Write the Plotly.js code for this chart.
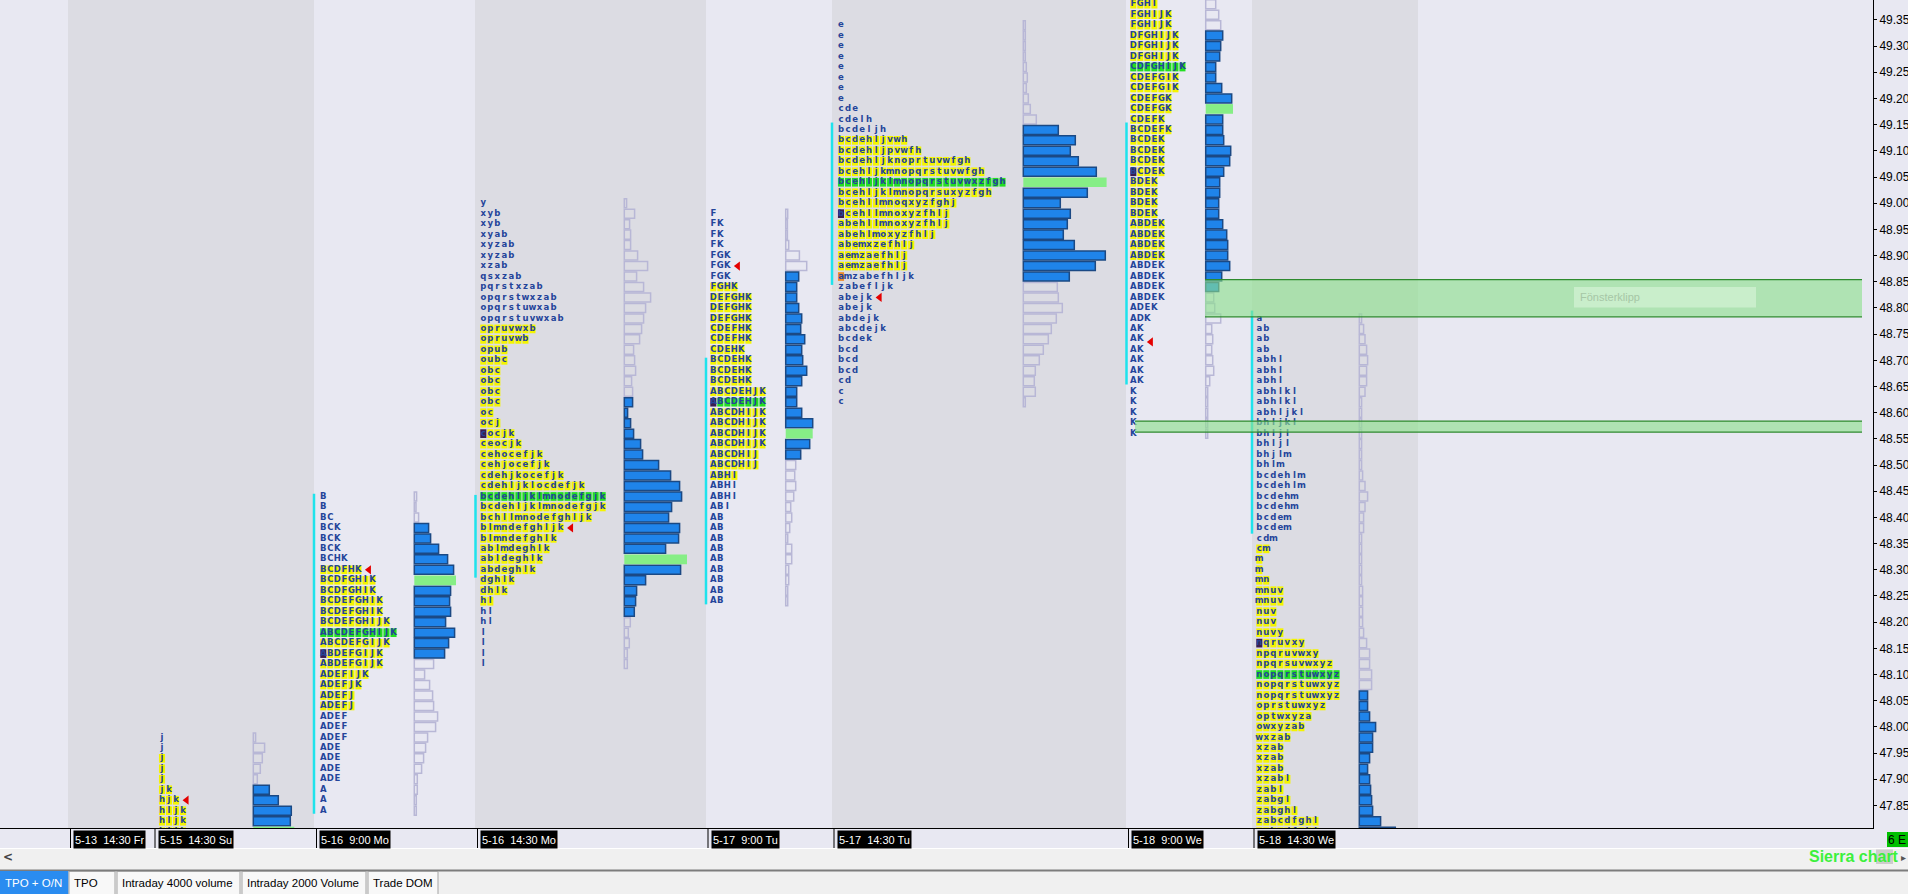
<!DOCTYPE html>
<html>
<head>
<meta charset="utf-8">
<script src="https://cdn.plot.ly/plotly-3.0.1.min.js"></script>
<style>
html,body{margin:0;padding:0;background:#e8e8f2;overflow:hidden;}
#chart{width:1908px;height:894px;}
</style>
</head>
<body>
<div id="chart"></div>
<script>
// ================= DATA =================
const priceTicks = [47.85,47.90,47.95,48.00,48.05,48.10,48.15,48.20,48.25,48.30,48.35,48.40,48.45,48.50,48.55,48.60,48.65,48.70,48.75,48.80,48.85,48.90,48.95,49.00,49.05,49.10,49.15,49.20,49.25,49.30,49.35];
const sessionLabels = ['5-13\u00a0 14:30 Fr','5-15\u00a0 14:30 Su','5-16\u00a0 9:00 Mo','5-16\u00a0 14:30 Mo','5-17\u00a0 9:00 Tu','5-17\u00a0 14:30 Tu','5-18\u00a0 9:00 We','5-18\u00a0 14:30 We'];
const tabLabels = ['TPO + O/N','TPO','Intraday 4000 volume','Intraday 2000 Volume','Trade DOM'];
const zoneHigh = [48.854, 48.584];
const zoneLow  = [48.783, 48.563];
const zoneText = 'Fönsterklipp';
const symbolText = '6 E';
const brandText = 'Sierra chart';

// Profile 1 : 5-15 14:30 Su
const p1Top = 47.98;
const p1Tpo = ['j','j','j','j','j','jk','hjk','hljk','hljk','hljk'];
const p1Vol = [2.3,11.3,9,7,4,16,25,38,37,41];
const p1TpoVA = [47.94,47.80], p1TpoPOC = null, p1VolVA = [47.88,47.82], p1VolPOC = 47.80;
const p1Open = null, p1Close = null, p1Tri = 47.86, p1IB = null;

// Profile 2 : 5-16 9:00 Mo
const p2Top = 48.44;
const p2Tpo = ['B','B','BC','BCK','BCK','BCK','BCHK','BCDFHK','BCDFGHIK','BCDFGHIK','BCDEFGHIK','BCDEFGHIK','BCDEFGHIJK','ABCDEFGHIJK','ABCDEFGIJK','ABDEFGIJK','ABDEFGIJK','ADEFIJK','ADEFJK','ADEFJ','ADEFJ','ADEF','ADEF','ADEF','ADE','ADE','ADE','ADE','A','A','A'];
const p2Vol = [2.3,1.7,4.3,14.3,16.3,24.3,33.3,39.3,41.7,36.3,35.3,36.3,31.3,40.3,34.3,30.3,19.3,10.3,15.3,18.3,19.3,23.3,21.3,13.3,11.3,9.3,7.3,3,3,2,2];
const p2TpoVA = [48.30,48.04], p2TpoPOC = 48.18, p2VolVA = [48.38,48.14], p2VolPOC = 48.28;
const p2Open = 48.14, p2Close = null, p2Tri = 48.30, p2IB = [48.445,47.834];

// Profile 3 : 5-16 14:30 Mo
const p3Top = 49.00;
const p3Tpo = ['y','xyb','xyb','xyab','xyzab','xyzab','xzab','qsxzab','pqrstxzab','opqrstwxzab','opqrstuwxab','opqrstuvwxab','opruvwxb','opruvwb','opub','oubc','obc','obc','obc','obc','oc','ocj','cocjk','ceocjk','cehocefjk','cehjocefjk','cdehjkocefjk','cdehljklocdefjk','bcdehljklmnodefgjk','bcdehljklmnodefgjk','bchllmnodefghljk','blmndefghljk','blmndefghlk','ablmdeghlk','abldeghlk','abdeghlk','dghlk','dhlk','hl','hl','hl','l','l','l','l'];
const p3Vol = [2.3,10.3,5.3,6.3,6.3,13.3,23.3,12.3,19.3,26.3,21.3,19.3,17.3,15.3,9.3,10.3,11.3,7.3,8.3,8.3,3.3,6.3,9.3,16.3,18.3,34.3,46.3,55.3,57.3,47.3,44.3,55.3,54.3,41.3,62.7,56.3,21.3,12.3,11.3,10,6,4,5,3,3];
const p3TpoVA = [48.76,48.24], p3TpoPOC = 48.44, p3VolVA = [48.62,48.22], p3VolPOC = 48.32;
const p3Open = 48.56, p3Close = null, p3Tri = 48.38, p3IB = [48.443,48.285];

// Profile 4 : 5-17 9:00 Tu
const p4Top = 48.98;
const p4Tpo = ['F','FK','FK','FK','FGK','FGK','FGK','FGHK','DEFGHK','DEFGHK','DEFGHK','CDEFHK','CDEFHK','CDEHK','BCDEHK','BCDEHK','BCDEHK','ABCDEHJK','ABCDEHJK','ABCDHIJK','ABCDHIJK','ABCDHIJK','ABCDHIJK','ABCDHIJ','ABCDHIJ','ABHI','ABHI','ABHI','ABI','AB','AB','AB','AB','AB','AB','AB','AB','AB'];
const p4Vol = [2,1.7,1.7,3,13.7,21,13,11,11,13,16,15,19,16,17,21,16,11,11,16,27,27,24,15,10,9,10,8,5,6,4,2,6,6,3,3,2,2];
const p4TpoVA = [48.84,48.48], p4TpoPOC = 48.62, p4VolVA = [48.86,48.52], p4VolPOC = 48.56;
const p4Open = 48.62, p4Close = null, p4Tri = 48.88, p4IB = [48.705,48.234];

// Profile 5 : 5-17 14:30 Tu
const p5Top = 49.34;
const p5Tpo = ['e','e','e','e','e','e','e','e','cde','cdelh','bcdeljh','bcdehljvwh','bcdehljpvwfh','bcdehljknoprtuvwfgh','bcehljkmnopqrstuvwfgh','bcehljklmnopqrstuvwxzfgh','bcehljklmnopqrsuxyzfgh','bcehllmnoqxyzfghj','bcehllmnoxyzfhlj','abehllmnoxyzfhlj','abehlmoxyzfhlj','abemxzefhlj','aemzaefhlj','aemzaefhlj','amzabefhljk','zabefljk','abejk','abejk','abdejk','abcdejk','bcdek','bcd','bcd','bcd','cd','c','c'];
const p5Vol = [2,2,2,2,3,4,3,5,7,13,35,52,47,55,73,83.3,64,37,47,44,40,51,82,72,46,34,35,39,33,28,25,20,16,12,11,12,2];
const p5TpoVA = [49.12,48.88], p5TpoPOC = 49.04, p5VolVA = [49.14,48.86], p5VolPOC = 49.04;
const p5Open = 48.98, p5Close = 48.86, p5Tri = 48.82, p5IB = [49.154,48.844];

// Profile 6 : 5-18 9:00 We
const p6Top = 49.38;
const p6Tpo = ['FGHI','FGHIJK','FGHIJK','DFGHIJK','DFGHIJK','DFGHIJK','CDFGHIJK','CDEFGIK','CDEFGIK','CDEFGK','CDEFGK','CDEFK','BCDEFK','BCDEK','BCDEK','BCDEK','BCDEK','BDEK','BDEK','BDEK','BDEK','ABDEK','ABDEK','ABDEK','ABDEK','ABDEK','ABDEK','ABDEK','ABDEK','ADEK','ADK','AK','AK','AK','AK','AK','AK','K','K','K','K','K'];
const p6Vol = [10,13,15,17,15,14,10,10,16,26,27.3,17,17,18,25,24,18,14,14,13,13,17,21,22,22,24,16,13,8,9,15,6,7,6,7,8,4,2,2,2,2,2];
const p6TpoVA = [49.38,48.90], p6TpoPOC = 49.26, p6VolVA = [49.32,48.84], p6VolPOC = 49.18;
const p6Open = 49.06, p6Close = null, p6Tri = 48.735, p6IB = [49.154,48.654];

// Profile 7 : 5-18 14:30 We
const p7Top = 48.78;
const p7Tpo = ['a','ab','ab','ab','abhl','abhl','abhl','abhlkl','abhlkl','abhljkl','bhljkl','bhljl','bhljl','bhjlm','bhlm','bcdehlm','bcdehlm','bcdehm','bcdehm','bcdem','bcdem','cdm','cm','m','m','mn','mnuv','mnuv','nuv','nuv','nuvy','nqruvxy','npqruvwxy','npqrsuvwxyz','nopqrstuwxyz','nopqrstuwxyz','nopqrstuwxyz','oprstuwxyz','optwxyza','owxyzab','wxzab','xzab','xzab','xzab','xzabl','zabl','zabgl','zabghl','zabcdfghl','zabcdfghl'];
const p7Vol = [2.3,4.3,5.7,7.3,8.3,7.3,7.3,5.7,2.3,2.3,2.3,2.3,2.3,2.3,2.3,3.3,5.7,8.3,5.7,4.3,4.3,2.3,2.3,2.3,2.3,2.3,3.3,3.3,3.3,3.3,4.3,7.3,10.3,10.3,12.3,12.3,8.3,8.3,10.3,16.3,13.3,13.3,10.3,8.3,10.3,11.3,12.3,13.3,21.3,36];
const p7TpoVA = [48.34,47.80], p7TpoPOC = 48.10, p7VolVA = [48.06,47.80], p7VolPOC = null;
const p7Open = 48.16, p7Close = null, p7Tri = null, p7IB = [48.795,48.369];

// ================= LAYOUT CONSTANTS (positions / styles) =================
const PW = 1873, PH = 828;                 // plot area in px (x axis = px)
const Y_RANGE = [47.807, 49.388];
const SESSION_SEP_X = [70.5,155,316.5,477.5,708,834,1128.5,1254];
const SHADE_X = [[68,314],[475,706],[832,1126],[1252,1418]];
const LETTER_X = [162,323.3,483.3,713.3,841,1133.3,1259.3];
const VOL_X = [253.3,414.3,624.3,785.7,1023.3,1205.7,1359.3];
const IB_X = [null,314,475.5,706,832,1126.5,1252];
const ZONE_X = [[1205,1862],[1135,1862]];
const TAB_X = [[0,68],[69,115],[117,240],[242,366],[368,438]];
const ROW = 0.02, DX = 7.02, BOXW = 6.1, BOXH = 0.0166, VOLH = 0.0172, VOL_SCALE = 1;
const C = {bgLight:'#e8e8f2', bgDark:'#dcdce3', va:'#f4f400', poc:'#22de22', open:'#3b1d4f', close:'#ee8a2a',
  letter:'#24449a', volBlue:'#1f84ea', volBlueLine:'#1b4984', volOut:'#b8b7d6', volPoc:'#86ee86',
  ib:'#1fe3ec', tri:'#e40000'};

// ================= BUILD =================
const profiles = [
 {top:p1Top,tpo:p1Tpo,vol:p1Vol,tpoVA:p1TpoVA,tpoPOC:p1TpoPOC,volVA:p1VolVA,volPOC:p1VolPOC,open:p1Open,close:p1Close,tri:p1Tri,ib:p1IB},
 {top:p2Top,tpo:p2Tpo,vol:p2Vol,tpoVA:p2TpoVA,tpoPOC:p2TpoPOC,volVA:p2VolVA,volPOC:p2VolPOC,open:p2Open,close:p2Close,tri:p2Tri,ib:p2IB},
 {top:p3Top,tpo:p3Tpo,vol:p3Vol,tpoVA:p3TpoVA,tpoPOC:p3TpoPOC,volVA:p3VolVA,volPOC:p3VolPOC,open:p3Open,close:p3Close,tri:p3Tri,ib:p3IB},
 {top:p4Top,tpo:p4Tpo,vol:p4Vol,tpoVA:p4TpoVA,tpoPOC:p4TpoPOC,volVA:p4VolVA,volPOC:p4VolPOC,open:p4Open,close:p4Close,tri:p4Tri,ib:p4IB},
 {top:p5Top,tpo:p5Tpo,vol:p5Vol,tpoVA:p5TpoVA,tpoPOC:p5TpoPOC,volVA:p5VolVA,volPOC:p5VolPOC,open:p5Open,close:p5Close,tri:p5Tri,ib:p5IB},
 {top:p6Top,tpo:p6Tpo,vol:p6Vol,tpoVA:p6TpoVA,tpoPOC:p6TpoPOC,volVA:p6VolVA,volPOC:p6VolPOC,open:p6Open,close:p6Close,tri:p6Tri,ib:p6IB},
 {top:p7Top,tpo:p7Tpo,vol:p7Vol,tpoVA:p7TpoVA,tpoPOC:p7TpoPOC,volVA:p7VolVA,volPOC:p7VolPOC,open:p7Open,close:p7Close,tri:p7Tri,ib:p7IB}
];
const EPS = 1e-6;
const same = (a,b) => b !== null && b !== undefined && Math.abs(a-b) < EPS;
const within = (p,r) => !!r && p <= r[0]+EPS && p >= r[1]-EPS;
const rowPrice = (top,i) => +(top - i*ROW).toFixed(2);

const box = {y:[],x:[],base:[],c:[]};
const txt = {x:[],y:[],t:[]};
const vOut = {y:[],x:[],base:[]}, vBlue = {y:[],x:[],base:[]}, vPoc = {y:[],x:[],base:[]};
const ib = {x:[],y:[]}, tri = {x:[],y:[]};

profiles.forEach((p,k) => {
  const lx = LETTER_X[k], vx = VOL_X[k];
  p.tpo.forEach((row,i) => {
    const price = rowPrice(p.top,i);
    const isPoc = same(price,p.tpoPOC), inVA = within(price,p.tpoVA);
    for (let j=0;j<row.length;j++){
      const x = lx + j*DX;
      let col = isPoc ? C.poc : (inVA ? C.va : null);
      if (j===0 && same(price,p.open)) col = C.open;
      if (j===0 && same(price,p.close)) col = C.close;
      if (col){ box.y.push(price); box.base.push(x-BOXW/2); box.x.push(BOXW); box.c.push(col); }
      txt.x.push(x); txt.y.push(price); txt.t.push(row[j]);
    }
  });
  p.vol.forEach((v,i) => {
    const price = rowPrice(p.top,i);
    const tgt = same(price,p.volPOC) ? vPoc : (within(price,p.volVA) ? vBlue : vOut);
    tgt.y.push(price); tgt.x.push(v*VOL_SCALE); tgt.base.push(vx);
  });
  if (p.ib && IB_X[k] !== null){ ib.x.push(IB_X[k],IB_X[k],null); ib.y.push(p.ib[0],p.ib[1],null); }
  if (p.tri !== null){
    const idx = Math.round((p.top - p.tri)/ROW);
    tri.x.push(lx + (p.tpo[idx].length + 0.5)*DX); tri.y.push(p.tri);
  }
});

const data = [
  {type:'bar',orientation:'h',y:box.y,x:box.x,base:box.base,width:BOXH,marker:{color:box.c,line:{width:0}},hoverinfo:'skip'},
  {type:'bar',orientation:'h',y:vOut.y,x:vOut.x,base:vOut.base,width:VOLH,marker:{color:'rgba(0,0,0,0)',line:{color:C.volOut,width:1.5}},hoverinfo:'skip'},
  {type:'bar',orientation:'h',y:vBlue.y,x:vBlue.x,base:vBlue.base,width:VOLH,marker:{color:C.volBlue,line:{color:C.volBlueLine,width:1.5}},hoverinfo:'skip'},
  {type:'bar',orientation:'h',y:vPoc.y,x:vPoc.x,base:vPoc.base,width:0.0185,marker:{color:C.volPoc,line:{width:0}},hoverinfo:'skip'},
  {type:'scatter',mode:'text',x:txt.x,y:txt.y,text:txt.t,textposition:'middle center',
   textfont:{family:'DejaVu Sans',size:8.5,color:C.letter,weight:'bold'},hoverinfo:'skip'},
  {type:'scatter',mode:'lines',x:ib.x,y:ib.y,line:{color:C.ib,width:2.5},hoverinfo:'skip'},
  {type:'scatter',mode:'markers',x:tri.x,y:tri.y,marker:{symbol:'triangle-left',size:8,color:C.tri,line:{width:0}},hoverinfo:'skip'}
];

const xp = X => X/PW, yp = Y => (PH - Y)/PH;
const shapes = [], annotations = [];
SHADE_X.forEach(b => shapes.push({type:'rect',layer:'below',xref:'x',yref:'paper',x0:b[0],x1:b[1],y0:0,y1:1,fillcolor:C.bgDark,line:{width:0}}));
zoneHigh.forEach((hi,k) => {
  const lo = zoneLow[k], xs = ZONE_X[k];
  shapes.push({type:'rect',layer:'above',xref:'x',yref:'y',x0:xs[0],x1:xs[1],y0:lo,y1:hi,fillcolor:'rgba(140,224,140,0.62)',line:{width:0}});
  shapes.push({type:'line',layer:'above',xref:'x',yref:'y',x0:xs[0],x1:xs[1],y0:hi,y1:hi,line:{color:'#2e8a2e',width:1.3}});
  shapes.push({type:'line',layer:'above',xref:'x',yref:'y',x0:xs[0],x1:xs[1],y0:lo,y1:lo,line:{color:'#2e8a2e',width:1.3}});
});
// label box for the first zone
shapes.push({type:'rect',layer:'above',xref:'x',yref:'y',x0:1574,x1:1756,y0:48.801,y1:48.840,fillcolor:'rgba(222,247,222,0.55)',line:{width:0}});
annotations.push({xref:'x',yref:'y',x:1578,y:48.8205,xanchor:'left',yanchor:'middle',text:zoneText,showarrow:false,font:{family:'Liberation Sans',size:11,color:'#a6c6a6'}});

// bottom panel
shapes.push({type:'rect',xref:'paper',yref:'paper',x0:0,x1:xp(1908),y0:yp(896),y1:yp(848.5),fillcolor:'#f0f0f0',line:{width:0}});
shapes.push({type:'line',xref:'paper',yref:'paper',x0:0,x1:xp(1908),y0:yp(848.5),y1:yp(848.5),line:{color:'#ffffff',width:1}});
shapes.push({type:'line',xref:'paper',yref:'paper',x0:0,x1:xp(1908),y0:yp(870.5),y1:yp(870.5),line:{color:'#7c7c7c',width:2}});
SESSION_SEP_X.forEach((sx,k) => {
  shapes.push({type:'line',xref:'paper',yref:'paper',x0:xp(sx),x1:xp(sx),y0:yp(848),y1:yp(828),line:{color:'#000',width:1}});
  annotations.push({xref:'paper',yref:'paper',x:xp(sx+2.5),y:yp(839.5),xanchor:'left',yanchor:'middle',text:sessionLabels[k],showarrow:false,
    bgcolor:'#000',borderpad:1,height:15,font:{family:'Liberation Sans',size:11,color:'#fff'}});
});
// symbol box
shapes.push({type:'rect',xref:'paper',yref:'paper',x0:xp(1887),x1:xp(1908),y0:yp(847),y1:yp(832),fillcolor:'#00c000',line:{width:0}});
annotations.push({xref:'paper',yref:'paper',x:xp(1897.5),y:yp(839.5),xanchor:'center',yanchor:'middle',text:symbolText,showarrow:false,font:{family:'Liberation Sans',size:12,color:'#000'}});
// brand and arrows
shapes.push({type:'rect',xref:'paper',yref:'paper',x0:xp(1876),x1:xp(1893),y0:yp(864),y1:yp(849.5),fillcolor:'#cdcdcd',line:{width:0}});
annotations.push({xref:'paper',yref:'paper',x:xp(1901),y:yp(856.5),xanchor:'right',yanchor:'middle',text:brandText,showarrow:false,font:{family:'Liberation Sans',size:16,color:'#3cf03c',weight:'bold'}});
annotations.push({xref:'paper',yref:'paper',x:xp(1908),y:yp(857),xanchor:'right',yanchor:'middle',text:'▸',showarrow:false,font:{family:'DejaVu Sans',size:10,color:'#555'}});
annotations.push({xref:'paper',yref:'paper',x:xp(1),y:yp(857),xanchor:'left',yanchor:'middle',text:'<',showarrow:false,font:{family:'DejaVu Sans',size:12,color:'#444',weight:'bold'}});
// tabs
TAB_X.forEach((t,k) => {
  const sel = k === 0;
  shapes.push({type:'rect',xref:'paper',yref:'paper',x0:xp(t[0]),x1:xp(t[1]),y0:yp(895),y1:yp(871.5),
    fillcolor: sel ? '#2a8cf0' : '#f8f8f8', line:{color: sel ? '#2a8cf0' : '#a4a4a4', width:1}});
  annotations.push({xref:'paper',yref:'paper',x:xp(t[0]+3),y:yp(882.5),xanchor:'left',yanchor:'middle',text:tabLabels[k],showarrow:false,
    font:{family:'Liberation Sans',size:11.5,color: sel ? '#ffffff' : '#000000'}});
});

const layout = {
  width:1908, height:894,
  margin:{l:0,r:1908-PW,t:0,b:894-PH,pad:0},
  paper_bgcolor:C.bgLight, plot_bgcolor:C.bgLight,
  showlegend:false, hovermode:false, barmode:'overlay',
  xaxis:{range:[0,PW],showgrid:false,zeroline:false,showticklabels:false,ticks:'',showline:true,linecolor:'#000',linewidth:1,fixedrange:true},
  yaxis:{range:Y_RANGE,side:'right',showgrid:false,zeroline:false,showline:true,linecolor:'#000',linewidth:1,
    ticks:'outside',ticklen:3,tickcolor:'#000',tickvals:priceTicks,ticktext:priceTicks.map(v=>v.toFixed(2)),
    tickfont:{family:'Liberation Sans',size:12,color:'#000'},fixedrange:true},
  shapes:shapes, annotations:annotations
};
Plotly.newPlot('chart', data, layout, {staticPlot:true, displayModeBar:false});
</script>
</body>
</html>
